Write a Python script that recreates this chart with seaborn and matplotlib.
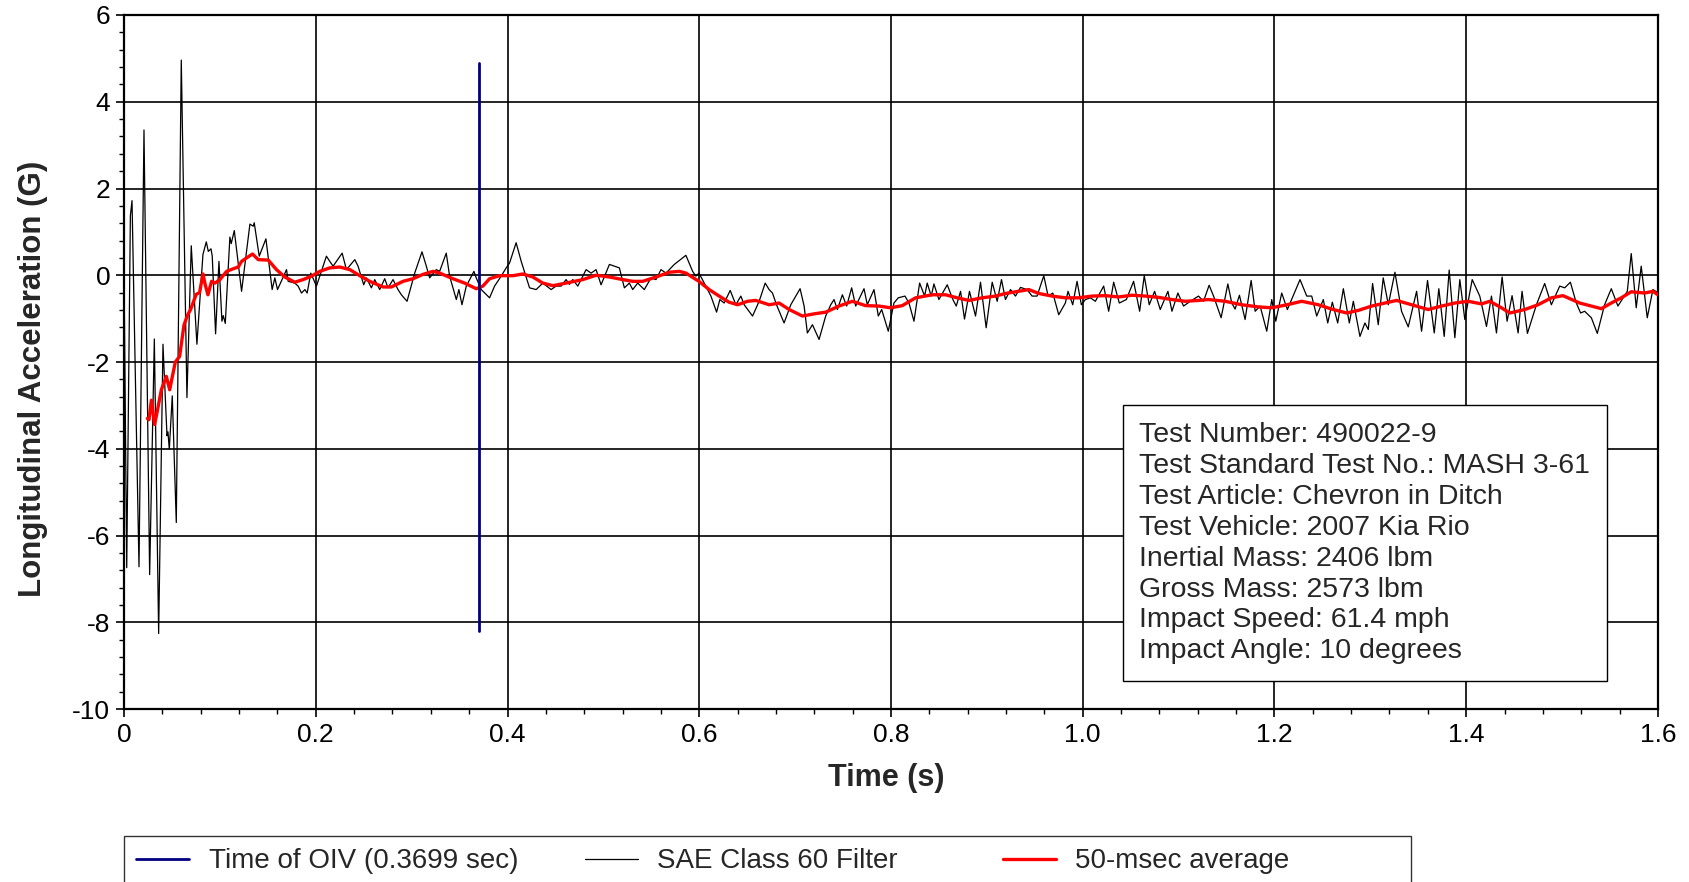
import numpy as np
import pandas as pd
import matplotlib
matplotlib.use("Agg")
import matplotlib.pyplot as plt
from matplotlib.ticker import MultipleLocator, FixedLocator, FixedFormatter
import seaborn as sns

sns.set_theme(style="ticks")
plt.rcParams['font.family'] = ['Liberation Sans', 'DejaVu Sans']
plt.rcParams['axes.unicode_minus'] = False

# SAE Class 60 filtered signal, (time s, accel G)
sae_points = [
    (0.0000, 0.00), (0.0028, -6.74), (0.0066, 1.37), (0.0083, 1.72), (0.0156, -6.72),
    (0.0208, 3.35), (0.0267, -6.90), (0.0316, -1.47), (0.0361, -8.26), (0.0406, -1.59),
    (0.0448, -3.70), (0.0458, -3.61), (0.0472, -4.01), (0.0503, -2.78), (0.0545, -5.70),
    (0.0597, 4.96), (0.0656, -2.82), (0.0701, 0.68), (0.0760, -1.59), (0.0823, 0.48),
    (0.0858, 0.77), (0.0879, 0.55), (0.0907, 0.61), (0.0920, 0.44), (0.0955, -1.35),
    (0.0990, 0.32), (0.1021, -1.06), (0.1035, -0.93), (0.1056, -1.11), (0.1104, 0.88),
    (0.1118, 0.73), (0.1150, 1.03), (0.1226, -0.37), (0.1313, 1.18), (0.1347, 1.13),
    (0.1358, 1.21), (0.1410, 0.44), (0.1480, 0.84), (0.1545, -0.33), (0.1573, -0.06),
    (0.1601, -0.33), (0.1695, 0.13), (0.1712, -0.14), (0.1781, -0.18), (0.1816, -0.25),
    (0.1851, -0.41), (0.1886, -0.33), (0.1910, -0.41), (0.1948, 0.05), (0.2007, -0.25),
    (0.2111, 0.44), (0.2146, 0.32), (0.2181, 0.21), (0.2275, 0.51), (0.2320, 0.13),
    (0.2407, 0.36), (0.2441, 0.21), (0.2500, -0.22), (0.2528, -0.06), (0.2580, -0.29),
    (0.2615, -0.10), (0.2667, -0.33), (0.2719, -0.08), (0.2754, -0.29), (0.2806, -0.10),
    (0.2858, -0.33), (0.2893, -0.45), (0.2952, -0.60), (0.3032, 0.05), (0.3108, 0.54),
    (0.3153, 0.21), (0.3188, -0.06), (0.3257, 0.13), (0.3292, 0.09), (0.3361, 0.51),
    (0.3396, -0.02), (0.3466, -0.56), (0.3493, -0.33), (0.3525, -0.68), (0.3570, -0.25),
    (0.3650, 0.09), (0.3674, -0.06), (0.3726, -0.33), (0.3813, -0.52), (0.3865, -0.25),
    (0.3934, -0.02), (0.3986, 0.17), (0.4021, 0.28), (0.4090, 0.75), (0.4143, 0.32),
    (0.4230, -0.29), (0.4299, -0.33), (0.4368, -0.18), (0.4455, -0.33), (0.4507, -0.25),
    (0.4559, -0.25), (0.4611, -0.10), (0.4646, -0.21), (0.4681, -0.10), (0.4733, -0.25),
    (0.4820, 0.13), (0.4872, 0.05), (0.4924, 0.13), (0.4976, -0.22), (0.5063, 0.25),
    (0.5167, 0.17), (0.5219, -0.29), (0.5271, -0.18), (0.5306, -0.33), (0.5358, -0.18),
    (0.5427, -0.33), (0.5497, -0.06), (0.5549, -0.10), (0.5601, 0.13), (0.5653, 0.05),
    (0.5740, 0.25), (0.5861, 0.46), (0.5931, 0.09), (0.5965, -0.02), (0.5997, 0.05),
    (0.6052, -0.18), (0.6122, -0.48), (0.6181, -0.85), (0.6215, -0.56), (0.6260, -0.64),
    (0.6323, -0.35), (0.6382, -0.68), (0.6434, -0.48), (0.6469, -0.68), (0.6556, -0.94),
    (0.6625, -0.60), (0.6688, -0.18), (0.6729, -0.33), (0.6764, -0.41), (0.6806, -0.68),
    (0.6885, -1.10), (0.6955, -0.68), (0.7052, -0.31), (0.7094, -0.71), (0.7128, -1.33),
    (0.7181, -1.14), (0.7250, -1.48), (0.7319, -0.94), (0.7372, -0.68), (0.7406, -0.56),
    (0.7441, -0.79), (0.7493, -0.45), (0.7538, -0.71), (0.7590, -0.29), (0.7632, -0.71),
    (0.7719, -0.31), (0.7753, -0.68), (0.7823, -0.33), (0.7868, -0.94), (0.7903, -0.79),
    (0.7972, -1.29), (0.8031, -0.64), (0.8076, -0.52), (0.8146, -0.48), (0.8188, -0.64),
    (0.8240, -1.06), (0.8299, -0.18), (0.8351, -0.48), (0.8378, -0.18), (0.8420, -0.48),
    (0.8448, -0.20), (0.8500, -0.56), (0.8587, -0.22), (0.8646, -0.56), (0.8681, -0.71),
    (0.8726, -0.37), (0.8767, -1.01), (0.8819, -0.37), (0.8882, -0.94), (0.8934, -0.16),
    (0.8993, -1.21), (0.9056, -0.16), (0.9108, -0.60), (0.9153, -0.10), (0.9194, -0.56),
    (0.9247, -0.33), (0.9299, -0.48), (0.9351, -0.28), (0.9420, -0.33), (0.9472, -0.48),
    (0.9524, -0.48), (0.9594, -0.01), (0.9639, -0.48), (0.9688, -0.41), (0.9750, -0.91),
    (0.9819, -0.64), (0.9847, -0.37), (0.9896, -0.68), (0.9941, -0.14), (0.9986, -0.68),
    (1.0028, -0.56), (1.0080, -0.52), (1.0132, -0.60), (1.0219, -0.25), (1.0271, -0.83),
    (1.0323, -0.16), (1.0382, -0.64), (1.0455, -0.56), (1.0531, -0.14), (1.0594, -0.83),
    (1.0642, -0.01), (1.0694, -0.68), (1.0750, -0.37), (1.0809, -0.79), (1.0889, -0.37),
    (1.0931, -0.83), (1.0993, -0.41), (1.1052, -0.71), (1.1122, -0.60), (1.1208, -0.48),
    (1.1260, -0.60), (1.1319, -0.23), (1.1365, -0.48), (1.1444, -0.98), (1.1514, -0.20),
    (1.1555, -0.64), (1.1590, -0.78), (1.1635, -0.46), (1.1694, -1.02), (1.1757, -0.12),
    (1.1799, -0.83), (1.1851, -0.71), (1.1920, -1.29), (1.1972, -0.56), (1.2014, -1.06),
    (1.2076, -0.41), (1.2135, -0.79), (1.2267, -0.10), (1.2337, -0.48), (1.2389, -0.48),
    (1.2441, -0.94), (1.2510, -0.56), (1.2556, -1.10), (1.2604, -0.62), (1.2660, -1.10),
    (1.2719, -0.31), (1.2781, -1.10), (1.2823, -0.60), (1.2892, -1.41), (1.2944, -1.10),
    (1.2979, -1.25), (1.3024, -0.19), (1.3083, -1.14), (1.3135, -0.06), (1.3188, -0.68),
    (1.3257, 0.07), (1.3326, -0.83), (1.3396, -1.19), (1.3483, -0.37), (1.3535, -1.29),
    (1.3597, -0.12), (1.3667, -1.33), (1.3715, -0.31), (1.3771, -1.41), (1.3823, 0.12),
    (1.3882, -1.44), (1.3934, -0.10), (1.3986, -1.02), (1.4063, -0.10), (1.4142, -0.48),
    (1.4212, -1.18), (1.4264, -0.48), (1.4316, -1.33), (1.4375, -0.04), (1.4427, -1.06),
    (1.4479, -0.47), (1.4542, -1.33), (1.4583, -0.37), (1.4639, -1.34), (1.4733, -0.68),
    (1.4819, -0.19), (1.4889, -0.68), (1.4976, -0.25), (1.5028, -0.29), (1.5087, -0.16),
    (1.5149, -0.64), (1.5194, -0.87), (1.5236, -0.83), (1.5306, -0.98), (1.5368, -1.34),
    (1.5444, -0.68), (1.5514, -0.31), (1.5583, -0.71), (1.5681, -0.37), (1.5722, 0.50),
    (1.5774, -0.75), (1.5826, 0.21), (1.5889, -0.98), (1.5948, -0.33), (1.6000, -0.40),
]

# 50-msec moving average
avg_points = [
    (0.0243, -3.30), (0.0260, -3.33), (0.0285, -2.88), (0.0319, -3.44), (0.0347, -3.13),
    (0.0389, -2.64), (0.0441, -2.33), (0.0476, -2.64), (0.0535, -2.00), (0.0580, -1.87),
    (0.0625, -1.15), (0.0660, -0.93), (0.0694, -0.79), (0.0753, -0.44), (0.0788, -0.40),
    (0.0823, 0.03), (0.0847, -0.22), (0.0875, -0.45), (0.0913, -0.14), (0.0948, -0.18),
    (0.1000, -0.10), (0.1070, 0.09), (0.1139, 0.15), (0.1191, 0.19), (0.1226, 0.32),
    (0.1278, 0.40), (0.1340, 0.49), (0.1400, 0.36), (0.1504, 0.35), (0.1590, 0.13),
    (0.1677, -0.04), (0.1781, -0.16), (0.1868, -0.10), (0.1955, -0.02), (0.2042, 0.09),
    (0.2146, 0.17), (0.2250, 0.19), (0.2355, 0.13), (0.2459, -0.01), (0.2563, -0.14),
    (0.2702, -0.27), (0.2789, -0.27), (0.2910, -0.14), (0.3014, -0.08), (0.3118, 0.02),
    (0.3223, 0.09), (0.3292, 0.05), (0.3431, -0.08), (0.3552, -0.18), (0.3674, -0.31),
    (0.3743, -0.25), (0.3813, -0.08), (0.3917, -0.01), (0.4056, -0.01), (0.4160, 0.03),
    (0.4264, -0.04), (0.4368, -0.18), (0.4473, -0.24), (0.4611, -0.18), (0.4785, -0.10),
    (0.4924, 0.00), (0.5063, -0.04), (0.5202, -0.10), (0.5306, -0.14), (0.5410, -0.14),
    (0.5550, -0.04), (0.5688, 0.07), (0.5792, 0.09), (0.5861, 0.05), (0.5997, -0.14),
    (0.6104, -0.33), (0.6208, -0.48), (0.6310, -0.62), (0.6400, -0.68), (0.6503, -0.60),
    (0.6590, -0.58), (0.6730, -0.68), (0.6833, -0.64), (0.6938, -0.79), (0.7076, -0.94),
    (0.7198, -0.89), (0.7320, -0.85), (0.7458, -0.71), (0.7597, -0.60), (0.7736, -0.70),
    (0.7875, -0.71), (0.7997, -0.75), (0.8118, -0.70), (0.8257, -0.52), (0.8430, -0.45),
    (0.8570, -0.45), (0.8690, -0.52), (0.8813, -0.58), (0.8950, -0.52), (0.9090, -0.48),
    (0.9194, -0.42), (0.9333, -0.37), (0.9438, -0.33), (0.9542, -0.42), (0.9680, -0.48),
    (0.9820, -0.52), (0.9958, -0.52), (1.0097, -0.48), (1.0236, -0.47), (1.0375, -0.50),
    (1.0514, -0.46), (1.0653, -0.48), (1.0792, -0.51), (1.0930, -0.56), (1.1070, -0.60),
    (1.1208, -0.58), (1.1312, -0.56), (1.1486, -0.60), (1.1660, -0.68), (1.1833, -0.73),
    (1.1972, -0.75), (1.2111, -0.69), (1.2285, -0.60), (1.2458, -0.68), (1.2597, -0.78),
    (1.2753, -0.87), (1.2875, -0.81), (1.3014, -0.71), (1.3153, -0.64), (1.3274, -0.58),
    (1.3430, -0.68), (1.3604, -0.79), (1.3743, -0.71), (1.3882, -0.64), (1.4020, -0.60),
    (1.4160, -0.66), (1.4247, -0.60), (1.4368, -0.75), (1.4455, -0.87), (1.4611, -0.79),
    (1.4750, -0.68), (1.4889, -0.52), (1.5010, -0.47), (1.5184, -0.64), (1.5306, -0.71),
    (1.5410, -0.77), (1.5514, -0.64), (1.5618, -0.52), (1.5722, -0.38), (1.5860, -0.41),
    (1.5948, -0.37), (1.6000, -0.45),
]

# time of OIV marker
oiv_time = [0.3699, 0.3699]
oiv_accel = [-8.2, 4.9]

x_ticks = [0, 0.2, 0.4, 0.6, 0.8, 1.0, 1.2, 1.4, 1.6]
x_tick_labels = ["0", "0.2", "0.4", "0.6", "0.8", "1.0", "1.2", "1.4", "1.6"]
y_ticks = [-10, -8, -6, -4, -2, 0, 2, 4, 6]
y_tick_labels = ["-10", "-8", "-6", "-4", "-2", "0", "2", "4", "6"]

info_lines = [
    "Test Number: 490022-9",
    "Test Standard Test No.: MASH 3-61",
    "Test Article: Chevron in Ditch",
    "Test Vehicle: 2007 Kia Rio",
    "Inertial Mass: 2406 lbm",
    "Gross Mass: 2573 lbm",
    "Impact Speed: 61.4 mph",
    "Impact Angle: 10 degrees",
]

sae_df = pd.DataFrame(sae_points, columns=["Time", "Accel"])
avg_df = pd.DataFrame(avg_points, columns=["Time", "Accel"])
oiv_df = pd.DataFrame({"Time": oiv_time, "Accel": oiv_accel})

fig, ax = plt.subplots(figsize=(16.9, 8.82), dpi=100)
fig.subplots_adjust(left=0.0734, right=0.981, bottom=0.1961, top=0.983)

sns.lineplot(data=oiv_df, x="Time", y="Accel", ax=ax, color="#000080", linewidth=2.0,
             estimator=None, sort=False, label="Time of OIV (0.3699 sec)", zorder=5)
sns.lineplot(data=sae_df, x="Time", y="Accel", ax=ax, color="black", linewidth=0.9,
             estimator=None, sort=False, label="SAE Class 60 Filter", zorder=3)
sns.lineplot(data=avg_df, x="Time", y="Accel", ax=ax, color="#ff0000", linewidth=2.4,
             estimator=None, sort=False, label="50-msec average", zorder=4)

ax.set_xlim(0, 1.6)
ax.set_ylim(-10, 6)
ax.xaxis.set_major_locator(FixedLocator(x_ticks))
ax.xaxis.set_major_formatter(FixedFormatter(x_tick_labels))
ax.yaxis.set_major_locator(FixedLocator(y_ticks))
ax.yaxis.set_major_formatter(FixedFormatter(y_tick_labels))
ax.xaxis.set_minor_locator(MultipleLocator(0.04))
ax.yaxis.set_minor_locator(MultipleLocator(0.4))

ax.grid(True, which="major", color="black", linewidth=1.2)
for sp in ax.spines.values():
    sp.set_visible(True)
    sp.set_color("black")
    sp.set_linewidth(1.6)

ax.tick_params(which="major", direction="out", length=6, width=1.2, colors="black",
               labelsize=19, pad=4)
ax.tick_params(which="minor", direction="out", length=3.5, width=1.0, colors="black")
ax.tick_params(top=False, right=False, which="both")

ax.set_xlabel("Time (s)", fontsize=22, fontweight="bold")
ax.set_ylabel("Longitudinal Acceleration (G)", fontsize=22.5, fontweight="bold")
ax.xaxis.set_label_coords(0.4968, -0.078)
ax.yaxis.set_label_coords(-0.0498, 0.476)

ax.text(0.662, 0.239, "\n".join(info_lines), transform=ax.transAxes, fontsize=20.5,
        ha="left", va="center", linespacing=1.245, zorder=6,
        bbox=dict(boxstyle="square,pad=0.58", facecolor="white", edgecolor="black", linewidth=1.0))

ax.legend_.remove()
handles, labels = ax.get_legend_handles_labels()
# trailing spaces widen the columns the way the original legend is laid out
labels = [labels[0], labels[1] + "     ", labels[2] + "              "]
leg = fig.legend(handles, labels, loc="upper left",
                 bbox_to_anchor=(124 / 1690, 1 - 836 / 882), bbox_transform=fig.transFigure,
                 ncol=3, fontsize=20, frameon=True, fancybox=False, borderaxespad=0,
                 handlelength=1.9, handletextpad=0.7, columnspacing=2.4, borderpad=0.45)
leg.get_frame().set_edgecolor("black")
leg.get_frame().set_linewidth(1.0)

fig.savefig("out.png", dpi=100)
